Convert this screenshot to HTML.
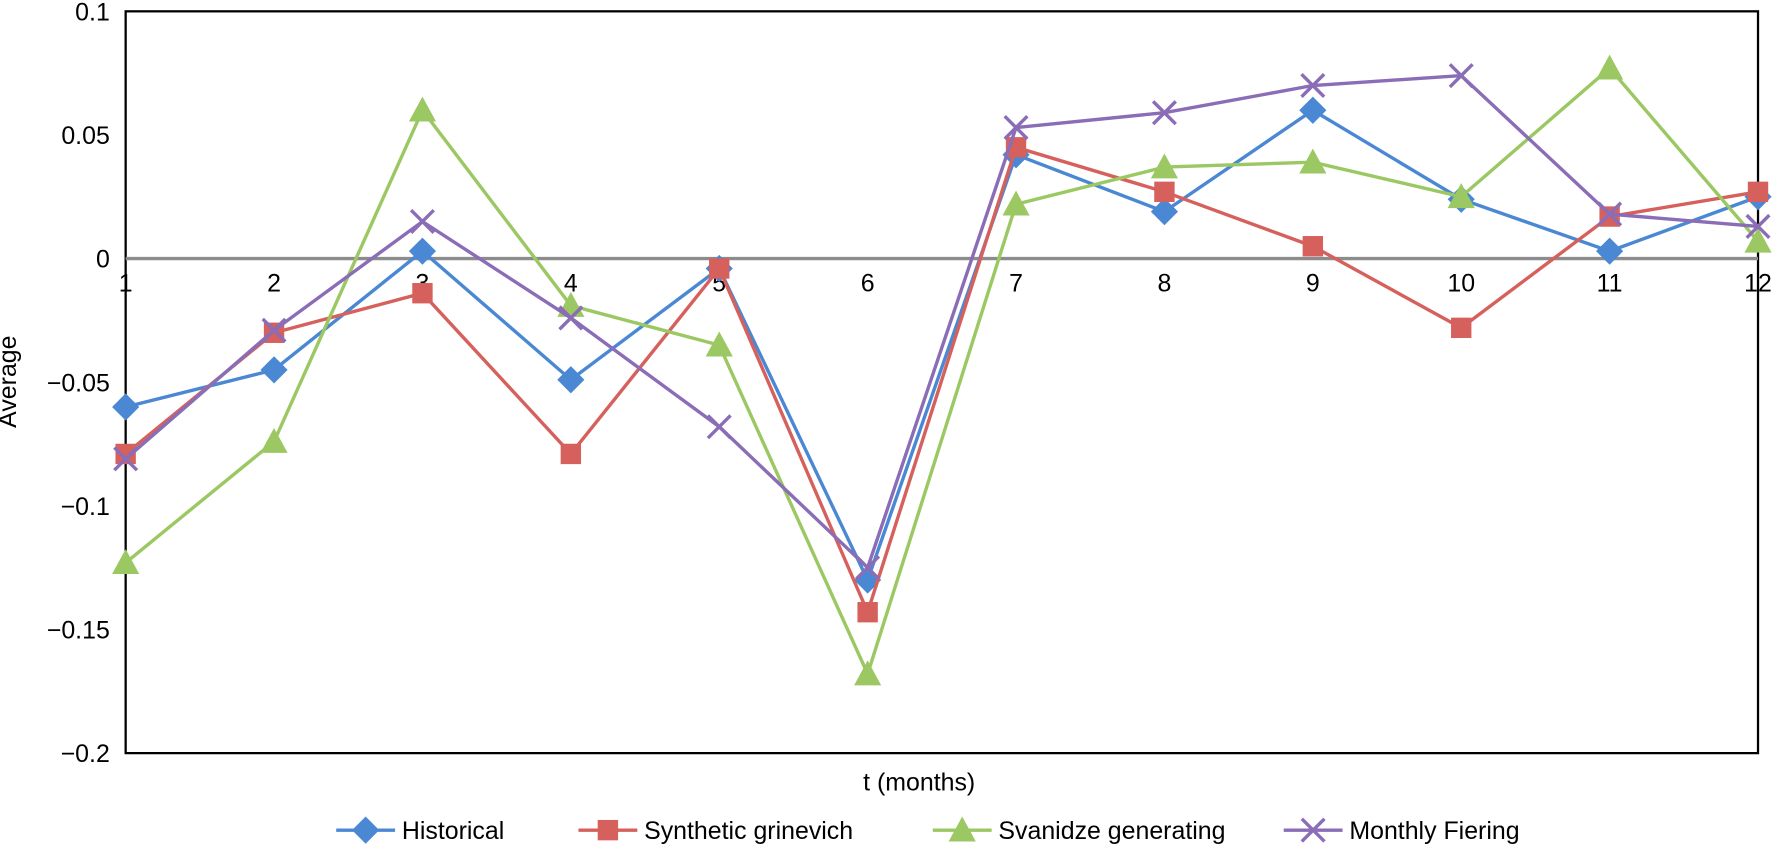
<!DOCTYPE html>
<html><head><meta charset="utf-8"><style>
html,body{margin:0;padding:0;background:#fff;overflow:hidden;}
svg{display:block;font-family:"Liberation Sans",Arial,sans-serif;}
</style></head><body>
<svg id="chart" width="1775" height="846" viewBox="0 0 1568 747" preserveAspectRatio="none">
<rect x="111" y="10" width="1442" height="655" fill="#fff" stroke="#000" stroke-width="2"/>
<g id="yticks"></g>
<g id="xticks"></g>
<g id="series"></g>
<text x="14" y="337" font-size="22" text-anchor="middle" transform="rotate(-90 14 337)">Average</text>
<text x="812" y="698" font-size="22" text-anchor="middle">t (months)</text>
<g id="legend"></g>
</svg>
<script>
const months=[1,2,3,4,5,6,7,8,9,10,11,12];
const yTicks=[0.1,0.05,0,-0.05,-0.1,-0.15,-0.2];
const yTickLabels=["0.1","0.05","0","\u22120.05","\u22120.1","\u22120.15","\u22120.2"];
const historical=[-0.060,-0.045,0.003,-0.049,-0.004,-0.130,0.042,0.019,0.060,0.024,0.003,0.025];
const synthetic=[-0.079,-0.030,-0.014,-0.079,-0.004,-0.143,0.045,0.027,0.005,-0.028,0.017,0.027];
const svanidze=[-0.123,-0.074,0.060,-0.019,-0.035,-0.168,0.022,0.037,0.039,0.025,0.077,0.007];
const monthly=[-0.081,-0.029,0.015,-0.024,-0.068,-0.125,0.053,0.059,0.070,0.074,0.018,0.013];
const seriesNames=["Historical","Synthetic grinevich","Svanidze generating","Monthly Fiering"];

const NS="http://www.w3.org/2000/svg";
const X0=111,X1=1553,YT=10,YB=665;
const xs=m=>X0+(m-1)*(X1-X0)/11;
const ys=v=>YT+(0.1-v)*(YB-YT)/0.3;
function mk(tag,attrs,parent){const e=document.createElementNS(NS,tag);for(const k in attrs)e.setAttribute(k,attrs[k]);parent.appendChild(e);return e;}
const yg=document.getElementById('yticks'),xg=document.getElementById('xticks'),sg=document.getElementById('series'),lg=document.getElementById('legend');
yTicks.forEach((v,i)=>{const t=mk('text',{x:97,y:ys(v)+8,'font-size':22,'text-anchor':'end'},yg);t.textContent=yTickLabels[i];

});
const zl=mk('line',{x1:X0,x2:X1,y1:ys(0),y2:ys(0),stroke:'#8c8c8c','stroke-width':3},sg);


months.forEach(m=>{const t=mk('text',{x:xs(m),y:ys(0)+29,'font-size':22,'text-anchor':'middle'},xg);t.textContent=m;

});
const colors=["#4a88d4","#d6605c","#9bc862","#8a6db6"];
const datasets=[historical,synthetic,svanidze,monthly];
function marker(type,x,y,c,parent){
 let e;
 if(type===0)e=mk('polygon',{points:`${x},${y-12} ${x+12},${y} ${x},${y+12} ${x-12},${y}`,fill:c},parent);
 else if(type===1)e=mk('rect',{x:x-9,y:y-9,width:18,height:18,fill:c},parent);
 else if(type===2)e=mk('polygon',{points:`${x},${y-12} ${x+12},${y+10} ${x-12},${y+10}`,fill:c},parent);
 else{e=mk('path',{d:`M${x-10},${y-10}L${x+10},${y+10}M${x+10},${y-10}L${x-10},${y+10}`,stroke:c,'stroke-width':3,fill:'none'},parent);}
 return e;
}
datasets.forEach((d,si)=>{
 const g=mk('g',{},sg);
 
 
 const pts=d.map((v,i)=>xs(months[i])+','+ys(v)).join(' ');
 const pl=mk('polyline',{points:pts,fill:'none',stroke:colors[si],'stroke-width':3},g);
 
 
 d.forEach((v,i)=>{const e=marker(si,xs(months[i]),ys(v),colors[si],g);
  
  });
});
const legX=[297,511,824,1134],legY=733;
seriesNames.forEach((n,i)=>{
 const g=mk('g',{},lg);
 
 
 mk('line',{x1:legX[i],x2:legX[i]+52,y1:legY,y2:legY,stroke:colors[i],'stroke-width':3},g);
 marker(i,legX[i]+26,legY,colors[i],g);
 const t=mk('text',{x:legX[i]+58,y:legY+8,'font-size':22},g);t.textContent=n;
});
</script>
</body></html>
